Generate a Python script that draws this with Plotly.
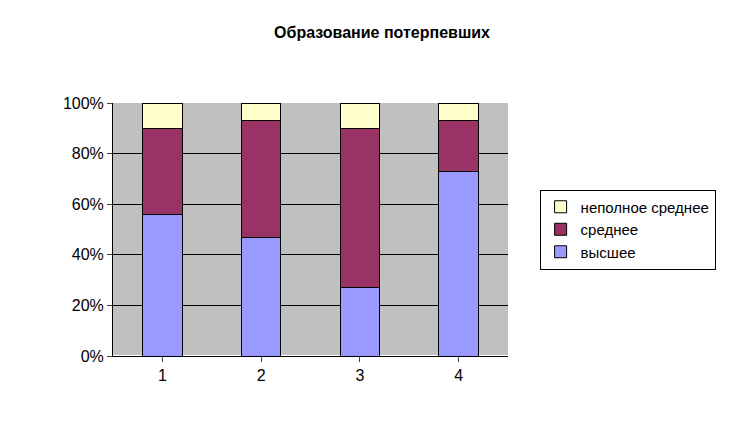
import plotly.graph_objects as go

categories = ["1", "2", "3", "4"]
higher = [56, 47, 27, 73]
secondary = [34, 46, 63, 20]
incomplete = [10, 7, 10, 7]

fig = go.Figure()
for name, vals, col in [("высшее", higher, "#9999FF"),
                        ("среднее", secondary, "#993366"),
                        ("неполное среднее", incomplete, "#FFFFCC")]:
    fig.add_bar(x=categories, y=vals, name=name, marker_color=col,
                marker_line_color="black", marker_line_width=1, width=0.4)

fig.update_layout(
    barmode="stack", barnorm="percent",
    width=748, height=425,
    paper_bgcolor="white", plot_bgcolor="#C0C0C0",
    font=dict(family="Liberation Sans, Arial", size=16, color="black"),
    title=dict(text="<b>Образование потерпевших</b>", x=0.5, xanchor="center", y=0.955, font=dict(size=16)),
    margin=dict(l=105, r=248, t=95, b=77),
    legend=dict(x=1.08, y=0.5, yanchor="middle", traceorder="reversed",
                bordercolor="black", borderwidth=1, font=dict(size=15),
                tracegroupgap=8),
    showlegend=True,
)
fig.update_yaxes(range=[0, 100], dtick=20, ticksuffix="%", gridcolor="black", gridwidth=1,
                 showline=True, linecolor="black", ticks="outside")
fig.update_xaxes(showline=True, linecolor="black", ticks="outside")
fig.write_html("out.html")
